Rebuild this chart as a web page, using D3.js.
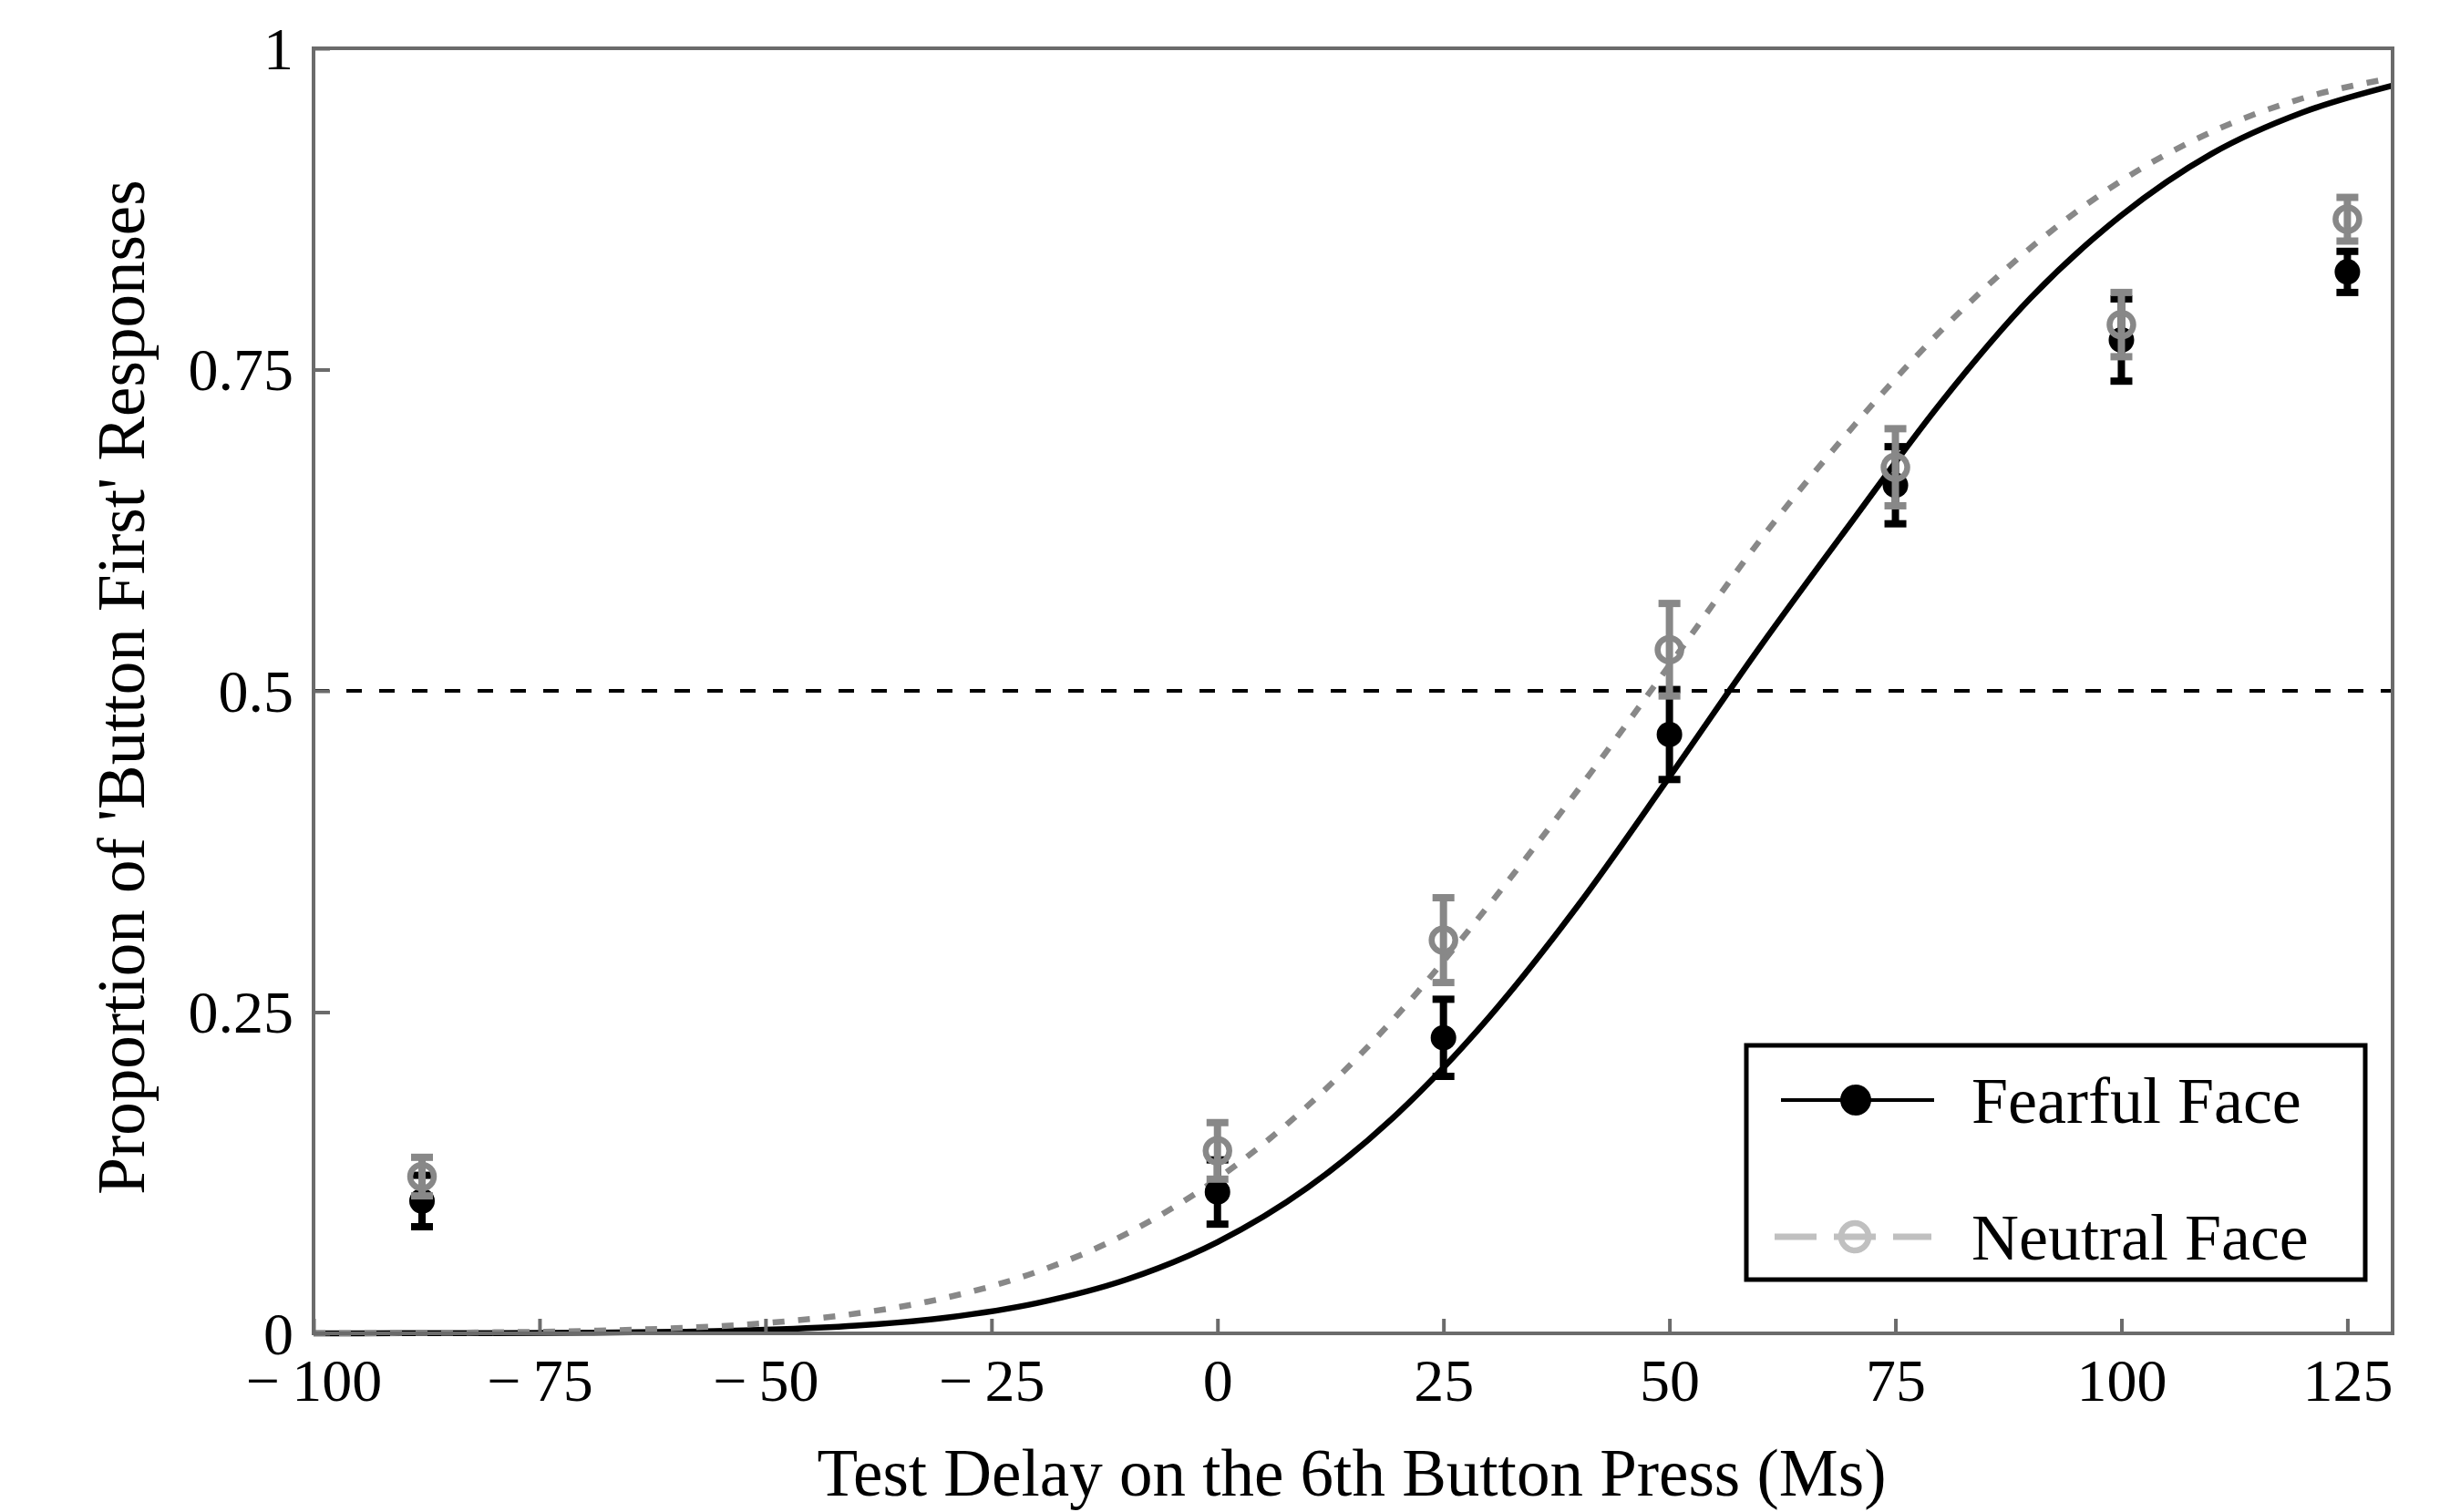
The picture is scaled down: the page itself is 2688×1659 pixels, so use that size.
<!DOCTYPE html>
<html>
<head>
<meta charset="utf-8">
<script src="https://cdn.jsdelivr.net/npm/d3@7"></script>
<style>
  html, body { margin: 0; padding: 0; background: #fff; }
  svg { display: block; }
  text { font-family: "Liberation Serif", "Times New Roman", serif; fill: #000; }
</style>
</head>
<body>
<svg id="chart" width="2688" height="1659"></svg>
<script>
// Test delays (ms) at which responses were collected
const delays = [-88, 0, 25, 50, 75, 100, 125];

// Mean proportion of 'button first' responses and standard errors
const fearfulMean = [0.103, 0.110, 0.230, 0.466, 0.660, 0.773, 0.826];
const fearfulErr  = [0.020, 0.025, 0.030, 0.035, 0.030, 0.032, 0.016];
const neutralMean = [0.122, 0.142, 0.306, 0.532, 0.674, 0.785, 0.867];
const neutralErr  = [0.015, 0.022, 0.033, 0.036, 0.030, 0.025, 0.017];

// Fitted psychometric curves, sampled along the delay axis
const curveX       = [-100, -90, -80, -70, -60, -50, -40, -30, -20, -10, 0, 10, 20, 30, 40, 50, 60, 70, 80, 90, 100, 110, 120, 130];
const fearfulCurve = [0.000, 0.0001, 0.0002, 0.0005, 0.0012, 0.0028, 0.006, 0.0123, 0.0235, 0.042, 0.071, 0.1135, 0.1716, 0.2457, 0.334, 0.433, 0.534, 0.630, 0.724, 0.806, 0.870, 0.918, 0.950, 0.971];
const neutralCurve = [0.0001, 0.0003, 0.0008, 0.0019, 0.004, 0.008, 0.0154, 0.0278, 0.0478, 0.0778, 0.1204, 0.1772, 0.2486, 0.333, 0.424, 0.520, 0.617, 0.703, 0.780, 0.845, 0.897, 0.935, 0.961, 0.977];

// Axis ticks and labels
const xTicks = [-100, -75, -50, -25, 0, 25, 50, 75, 100, 125];
const xTickLabels = ["\u2212\u2009100", "\u2212\u200975", "\u2212\u200950", "\u2212\u200925", "0", "25", "50", "75", "100", "125"];
const yTicks = [0, 0.25, 0.5, 0.75, 1];
const yTickLabels = ["0", "0.25", "0.5", "0.75", "1"];

const seriesNames = ["Fearful Face", "Neutral Face"];

const svg = d3.select("#chart");
const L = 344, R = 2625, T = 53, B = 1463;
const axisGrey = "#6b6b6b";
const neutralGrey = "#888888";

const x = d3.scaleLinear().domain([-100, 130]).range([L, R]);
const y = d3.scaleLinear().domain([0, 1]).range([B, T]);

// Reference line at chance level
svg.append("line")
  .attr("x1", L).attr("x2", R)
  .attr("y1", y(0.5)).attr("y2", y(0.5))
  .attr("stroke", "#000").attr("stroke-width", 4)
  .attr("stroke-dasharray", "17,19");

// Fitted curves
const line = d3.line()
  .x((d, i) => x(curveX[i]))
  .y(d => y(d))
  .curve(d3.curveMonotoneX);

svg.append("path")
  .datum(fearfulCurve)
  .attr("d", line)
  .attr("fill", "none")
  .attr("stroke", "#000")
  .attr("stroke-width", 6.5);

svg.append("path")
  .datum(neutralCurve)
  .attr("d", line)
  .attr("fill", "none")
  .attr("stroke", neutralGrey)
  .attr("stroke-width", 6.5)
  .attr("stroke-dasharray", "13,15");

// Error bars and markers
function drawSeries(means, errs, colour, filled) {
  const g = svg.append("g");
  const pts = delays.map((d, i) => ({ x: d, m: means[i], e: errs[i] }));
  g.selectAll("line.stem").data(pts).join("line")
    .attr("x1", d => x(d.x)).attr("x2", d => x(d.x))
    .attr("y1", d => y(d.m - d.e)).attr("y2", d => y(d.m + d.e))
    .attr("stroke", colour).attr("stroke-width", 8);
  [-1, 1].forEach(s => {
    g.selectAll(null).data(pts).join("line")
      .attr("x1", d => x(d.x) - 12).attr("x2", d => x(d.x) + 12)
      .attr("y1", d => y(d.m + s * d.e)).attr("y2", d => y(d.m + s * d.e))
      .attr("stroke", colour).attr("stroke-width", 8);
  });
  if (filled) {
    g.selectAll("circle").data(pts).join("circle")
      .attr("cx", d => x(d.x)).attr("cy", d => y(d.m))
      .attr("r", 14).attr("fill", colour);
  } else {
    g.selectAll("circle").data(pts).join("circle")
      .attr("cx", d => x(d.x)).attr("cy", d => y(d.m))
      .attr("r", 13).attr("fill", "none")
      .attr("stroke", colour).attr("stroke-width", 6.5);
  }
}
drawSeries(fearfulMean, fearfulErr, "#000", true);
drawSeries(neutralMean, neutralErr, neutralGrey, false);

// Axes (ticks point inward)
const xAxis = svg.append("g")
  .attr("transform", `translate(0,${B})`)
  .call(d3.axisBottom(x).tickValues(xTicks)
    .tickFormat((d, i) => xTickLabels[i])
    .tickSizeInner(-16).tickSizeOuter(0));
xAxis.select(".domain").remove();
xAxis.selectAll(".tick line").attr("stroke", axisGrey).attr("stroke-width", 4);
xAxis.selectAll(".tick text")
  .attr("y", 74).attr("dy", null)
  .attr("font-size", 66)
  .attr("font-family", "Liberation Serif");

const yAxis = svg.append("g")
  .attr("transform", `translate(${L},0)`)
  .call(d3.axisLeft(y).tickValues(yTicks)
    .tickFormat((d, i) => yTickLabels[i])
    .tickSizeInner(-18).tickSizeOuter(0));
yAxis.select(".domain").remove();
yAxis.selectAll(".tick line").attr("stroke", axisGrey).attr("stroke-width", 4);
yAxis.selectAll(".tick text")
  .attr("x", -22).attr("dy", 22)
  .attr("font-size", 66)
  .attr("font-family", "Liberation Serif");

// Frame
svg.append("rect")
  .attr("x", L).attr("y", T)
  .attr("width", R - L).attr("height", B - T)
  .attr("fill", "none")
  .attr("stroke", axisGrey).attr("stroke-width", 4);

// Axis titles
svg.append("text")
  .attr("x", 1483).attr("y", 1641)
  .attr("text-anchor", "middle")
  .attr("font-size", 73)
  .text("Test Delay on the 6th Button Press (Ms)");

svg.append("text")
  .attr("transform", `translate(158,${754}) rotate(-90)`)
  .attr("text-anchor", "middle")
  .attr("font-size", 73)
  .text("Proportion of 'Button First' Responses");

// Legend
const legend = svg.append("g");
legend.append("rect")
  .attr("x", 1916).attr("y", 1147)
  .attr("width", 679).attr("height", 257)
  .attr("fill", "#fff")
  .attr("stroke", "#000").attr("stroke-width", 5);

const legendRows = [
  { name: seriesNames[0], y: 1207, colour: "#000", dash: null, filled: true },
  { name: seriesNames[1], y: 1357, colour: "#c0c0c0", dash: "46,19", filled: false }
];
legendRows.forEach(r => {
  legend.append("line")
    .attr("x1", r.filled ? 1954 : 1947).attr("x2", r.filled ? 2122 : 2119)
    .attr("y1", r.y).attr("y2", r.y)
    .attr("stroke", r.colour)
    .attr("stroke-width", r.filled ? 4 : 7)
    .attr("stroke-dasharray", r.dash);
  if (r.filled) {
    legend.append("circle").attr("cx", 2036).attr("cy", r.y).attr("r", 17).attr("fill", r.colour);
  } else {
    legend.append("circle").attr("cx", 2035).attr("cy", r.y).attr("r", 15)
      .attr("fill", "none").attr("stroke", r.colour).attr("stroke-width", 6.5);
  }
  legend.append("text")
    .attr("x", 2163).attr("y", r.y + 25)
    .attr("font-size", 72)
    .text(r.name);
});
</script>
</body>
</html>
